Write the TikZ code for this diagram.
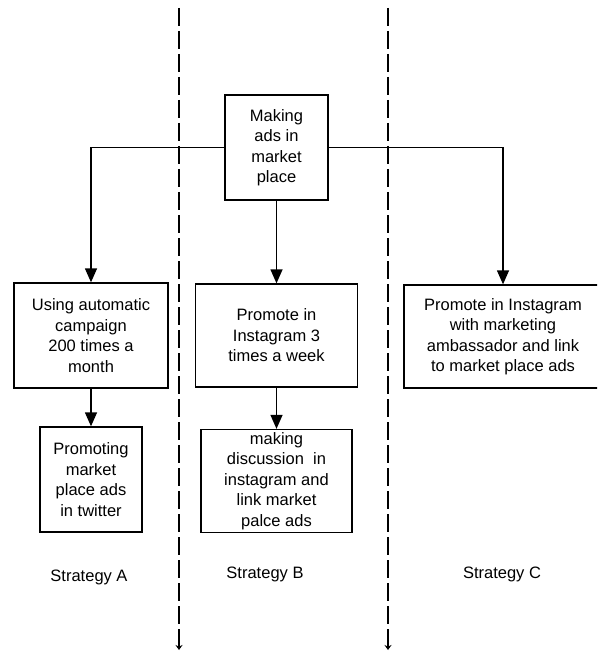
\documentclass[tikz,border=0pt]{standalone}
\usepackage{fontspec}
\setmainfont{Liberation Sans}
\usetikzlibrary{arrows.meta}
\begin{document}
\begin{tikzpicture}[x=1pt,y=-1pt,
  box/.style={draw=black,line width=1.3pt,align=center,inner sep=0pt,
    font=\fontsize{16.5}{20.5}\selectfont},
  conn/.style={line width=1.3pt,-{Triangle[width=12pt,length=14pt]}},
  lane/.style={line width=1.8pt,dash pattern=on 18pt off 5pt,-{Stealth[width=7pt,length=5pt]}},
  lbl/.style={font=\fontsize{16.5}{20}\selectfont}]
\useasboundingbox (0,0) rectangle (597,652);
\clip (0,0) rectangle (597,652);
% lanes
\coordinate (d1t) at (179,8);
\coordinate (d1b) at (179,650);
\coordinate (d2t) at (388,8);
\coordinate (d2b) at (388,650);
\draw[lane] (d1t) -- (d1b);
\draw[lane] (d2t) -- (d2b);
% nodes
\node[box,minimum width=103pt,minimum height=105pt] (top) at (276.5,147.5)
  {Making\\ads in\\market\\place};
\node[box,minimum width=154pt,minimum height=105pt] (a1) at (91,335.5)
  {Using automatic\\campaign\\200 times a\\month};
\node[box,minimum width=102pt,minimum height=105pt] (a2) at (91,479.5)
  {Promoting\\market\\place ads\\in twitter};
\node[box,minimum width=162pt,minimum height=103pt] (b1) at (276.5,335.5)
  {Promote in\\Instagram 3\\times a week};
\node[box,minimum width=151pt,minimum height=103pt] (b2) at (276.5,481)
  {making\\discussion\ \ in\\instagram and\\link market\\palce ads};
\node[box,minimum width=198pt,minimum height=103pt] (c) at (503,336.5)
  {Promote in Instagram\\with marketing\\ambassador and link\\to market place ads};
% connectors
\draw[conn] (top.west) -| (a1.north);
\draw[conn] (top.east) -| (c.north);
\draw[conn] (top.south) -- (b1.north);
\draw[conn] (a1.south) -- (a2.north);
\draw[conn] (b1.south) -- (b2.north);
% labels
\node[lbl] (la) at (89,577) {Strategy A};
\node[lbl] (lb) at (265,574) {Strategy B};
\node[lbl] (lc) at (502,574) {Strategy C};
\end{tikzpicture}
\end{document}
